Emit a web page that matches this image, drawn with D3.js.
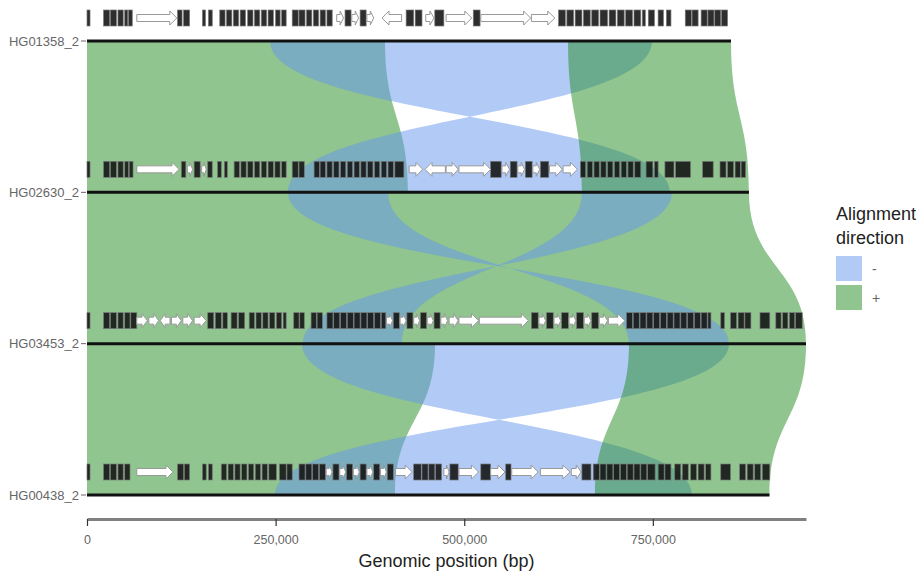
<!DOCTYPE html>
<html>
<head>
<meta charset="utf-8">
<script src="https://cdn.jsdelivr.net/npm/d3@7"></script>
<style>
  body { margin: 0; background: #fff; }
  text { font-family: "Liberation Sans", Arial, sans-serif; }
</style>
</head>
<body>
<svg id="chart" width="921" height="571"></svg>
<script>
// sequences, top to bottom, lengths in kb
const seqNames = ['HG01358_2', 'HG02630_2', 'HG03453_2', 'HG00438_2'];
const seqLengths = [853.6, 877.4, 953, 904.6];
const tickValues = [0, 250, 500, 750];

// alignments between neighbouring sequences: [fromStart, fromEnd, toStart, toEnd, strand] (kb)
const aln12 = [
  [0, 395, 0, 425.5, '+'],
  [242.6, 748.9, 266.4, 772.8, '-'],
  [637.6, 853.6, 656.1, 877.4, '+']
];
const aln23 = [
  [0, 877.4, 0, 953, '+'],
  [266.4, 399, 718.4, 851, '-'],
  [656.1, 775.4, 286.3, 417.5, '-']
];
const aln34 = [
  [0, 461.3, 0, 408.3, '+'],
  [285, 851, 249.2, 802, '-'],
  [718.4, 953, 673.4, 904.6, '+']
];

// gene annotation per sequence: [start, end, fill, strand] (kb), k = dark box, w = open arrow
const genes1 = [
  [0,4,'k'],[22,30,'k'],[31,39,'k'],[41,48,'k'],[50,54,'k'],[55,60,'k'],
  [66,119,'w','+'],
  [120,126,'k'],[128,136,'k'],[153,157,'k'],[161,166,'k'],
  [176,183,'k'],[185,192,'k'],[194,201,'k'],[203,210,'k'],[213,220,'k'],[222,229,'k'],[231,238,'k'],[240,247,'k'],[250,256,'k'],[258,264,'k'],
  [272,280,'k'],[281,289,'k'],[291,298,'k'],[300,307,'k'],[309,316,'k'],[318,325,'k'],
  [331,340,'w','+'],[342,350,'k'],[351,360,'w','+'],[362,370,'k'],[371,380,'w','+'],
  [391,417,'w','-'],[423,433,'k'],[435,444,'k'],
  [449,460,'w','+'],[461,473,'k'],[476,510,'w','+'],[512,521,'k'],
  [522,588,'w','+'],[589,620,'w','+'],
  [625,634,'k'],[636,645,'k'],[647,656,'k'],[658,667,'k'],[669,678,'k'],[680,690,'k'],[692,701,'k'],[703,712,'k'],[714,723,'k'],[725,734,'k'],[736,740,'k'],
  [744,752,'k'],[757,764,'k'],[768,774,'k'],
  [793,801,'k'],[802,810,'k'],
  [814,822,'k'],[823,831,'k'],[832,840,'k'],[841,849,'k']
];
const genes2 = [
  [0,4,'k'],[22,30,'k'],[31,39,'k'],[41,48,'k'],[50,55,'k'],[56,61,'k'],
  [66,122,'w','+'],
  [125,131,'k'],[133,140,'w','+'],[142,150,'k'],[152,158,'w','+'],[160,166,'k'],
  [173,178,'k'],[182,186,'k'],
  [195,202,'k'],[204,211,'k'],[213,220,'k'],[222,229,'k'],[231,238,'k'],[240,247,'k'],[249,256,'k'],[258,264,'k'],
  [272,280,'k'],[281,288,'k'],
  [301,308,'k'],[309,316,'k'],[318,325,'k'],[327,334,'k'],[336,343,'k'],[345,352,'k'],[354,361,'k'],[363,370,'k'],[372,379,'k'],[381,388,'k'],[390,397,'k'],[399,406,'k'],[408,420,'k'],
  [427,445,'w','+'],[448,475,'w','-'],[476,492,'w','+'],
  [493,535,'w','+'],[535,549,'k'],
  [550,560,'w','+'],[561,570,'k'],[571,580,'w','+'],[581,590,'k'],[591,600,'w','+'],[601,612,'k'],[613,630,'w','+'],[631,650,'w','+'],
  [654,661,'k'],[663,670,'k'],[672,679,'k'],[681,688,'k'],[690,697,'k'],[699,706,'k'],[708,715,'k'],[717,724,'k'],[726,734,'k'],
  [741,750,'k'],[752,757,'k'],
  [766,778,'k'],[780,800,'k'],
  [816,830,'k'],
  [839,847,'k'],[849,857,'k'],[859,866,'k'],[867,873,'k']
];
const genes3 = [
  [0,4,'k'],[22,30,'k'],[31,39,'k'],[41,48,'k'],[50,57,'k'],[58,66,'k'],
  [66,80,'w','+'],[82,95,'w','+'],[97,110,'w','-'],[112,125,'w','+'],[127,140,'w','+'],[142,158,'w','+'],
  [160,168,'k'],[170,178,'k'],[180,186,'k'],
  [191,199,'k'],[201,209,'k'],
  [215,222,'k'],[224,231,'k'],[233,240,'k'],[242,249,'k'],[251,258,'k'],[260,264,'k'],
  [274,281,'k'],[282,288,'k'],[297,304,'k'],[305,312,'k'],
  [318,326,'k'],[327,335,'k'],[336,344,'k'],[345,353,'k'],[354,362,'k'],[363,371,'k'],[372,380,'k'],[381,389,'k'],[390,396,'k'],
  [397,405,'w','+'],[406,414,'k'],[415,423,'w','+'],[424,432,'k'],[433,441,'w','+'],[442,450,'k'],[451,459,'w','+'],[460,468,'k'],[469,478,'w','+'],[480,492,'w','+'],
  [493,519,'w','+'],[520,585,'w','+'],
  [589,598,'k'],
  [599,608,'w','+'],[609,618,'k'],[619,628,'w','+'],[629,638,'k'],[639,648,'w','+'],[649,658,'k'],[659,668,'w','+'],[669,678,'k'],[679,690,'w','+'],
  [691,713,'w','+'],
  [715,723,'k'],[724,732,'k'],[733,741,'k'],[742,750,'k'],[751,759,'k'],[760,768,'k'],[769,777,'k'],[778,786,'k'],[787,795,'k'],[796,804,'k'],[805,813,'k'],[814,822,'k'],[823,827,'k'],
  [840,845,'k'],
  [853,861,'k'],[863,871,'k'],[872,880,'k'],
  [892,905,'k'],
  [913,920,'k'],[922,929,'k'],[931,938,'k'],[939,948,'k']
];
const genes4 = [
  [0,4,'k'],[22,30,'k'],[31,39,'k'],[41,48,'k'],[50,57,'k'],
  [66,114,'w','+'],
  [120,128,'k'],[129,136,'k'],[153,158,'k'],[161,166,'k'],
  [178,185,'k'],[187,194,'k'],[196,203,'k'],[205,212,'k'],[214,221,'k'],[223,230,'k'],[232,239,'k'],[241,251,'k'],
  [255,264,'k'],[265,272,'k'],
  [281,289,'k'],[290,298,'k'],[299,307,'k'],[308,316,'k'],[317,325,'w','+'],[326,334,'k'],[335,343,'w','+'],[344,352,'k'],[353,361,'w','+'],[362,370,'k'],[371,379,'w','+'],[380,388,'k'],[389,397,'w','+'],[398,406,'k'],
  [409,431,'w','+'],
  [433,443,'k'],[444,452,'k'],[453,461,'k'],[462,470,'k'],
  [473,480,'w','+'],[481,492,'k'],
  [493,519,'w','+'],[522,535,'k'],[535,554,'w','+'],[555,562,'k'],
  [563,598,'w','+'],[601,640,'w','+'],
  [642,655,'w','+'],[656,668,'k'],
  [671,679,'k'],[680,688,'k'],[689,697,'k'],[698,706,'k'],[707,715,'k'],[716,724,'k'],[725,733,'k'],[734,742,'k'],[743,753,'k'],
  [757,765,'k'],[766,774,'k'],
  [779,787,'k'],[789,797,'k'],[800,808,'k'],[810,818,'k'],[820,827,'k'],
  [840,853,'k'],
  [865,873,'k'],[875,883,'k'],[885,893,'k'],[895,905,'k']
];

const dirLabels = ['-', '+'];
const dirColors = {'-': 'cornflowerblue', '+': 'forestgreen'};

const svg = d3.select('#chart');

const x = d3.scaleLinear().domain([0, 953]).range([87, 806]);
const y = d3.scalePoint().domain(seqNames).range([41, 495]);

// ribbon between two sequences; minus strand alignments are twisted
function ribbon(d, y0, y1) {
  const [a1, a2, b1, b2, strand] = d;
  const ym = (y0 + y1) / 2;
  const br = strand === '+' ? b2 : b1,
    bl = strand === '+' ? b1 : b2;
  return 'M' + x(a1) + ',' + y0 + 'L' + x(a2) + ',' + y0 +
    'C' + x(a2) + ',' + ym + ' ' + x(br) + ',' + ym + ' ' + x(br) + ',' + y1 +
    'L' + x(bl) + ',' + y1 +
    'C' + x(bl) + ',' + ym + ' ' + x(a1) + ',' + ym + ' ' + x(a1) + ',' + y0 + 'Z';
}

const alnGroups = [aln12, aln23, aln34];
const gAln = svg.append('g');
alnGroups.forEach(function (alns, i) {
  const y0 = y(seqNames[i]), y1 = y(seqNames[i + 1]);
  gAln.selectAll(null)
    .data(alns)
    .enter().append('path')
    .attr('d', function (d) { return ribbon(d, y0, y1); })
    .attr('fill', function (d) { return dirColors[d[4]]; })
    .attr('fill-opacity', 0.5);
});

// sequence lines
svg.append('g').selectAll('line')
  .data(seqNames)
  .enter().append('line')
  .attr('x1', x(0))
  .attr('x2', function (d, i) { return x(seqLengths[i]); })
  .attr('y1', function (d) { return y(d); })
  .attr('y2', function (d) { return y(d); })
  .attr('stroke', '#111')
  .attr('stroke-width', 3);

// genes
function arrowPoints(d, yc) {
  const x0 = x(d[0]), x1 = x(d[1]);
  const head = Math.min(7, (x1 - x0) * 0.5), hb = 3.5, hh = 7;
  if (d[3] === '-') {
    return [[x1, yc - hb], [x0 + head, yc - hb], [x0 + head, yc - hh], [x0, yc],
      [x0 + head, yc + hh], [x0 + head, yc + hb], [x1, yc + hb]];
  }
  return [[x0, yc - hb], [x1 - head, yc - hb], [x1 - head, yc - hh], [x1, yc],
    [x1 - head, yc + hh], [x1 - head, yc + hb], [x0, yc + hb]];
}

const geneSets = [genes1, genes2, genes3, genes4];
geneSets.forEach(function (genes, i) {
  const yc = y(seqNames[i]) - 23;
  const g = svg.append('g');
  g.selectAll('rect')
    .data(genes.filter(function (d) { return d[2] === 'k'; }))
    .enter().append('rect')
    .attr('x', function (d) { return x(d[0]); })
    .attr('width', function (d) { return x(d[1]) - x(d[0]); })
    .attr('y', yc - 8)
    .attr('height', 16)
    .attr('fill', '#111')
    .attr('fill-opacity', 0.88)
    .attr('stroke', '#777')
    .attr('stroke-width', 0.7);
  g.selectAll('polygon')
    .data(genes.filter(function (d) { return d[2] === 'w'; }))
    .enter().append('polygon')
    .attr('points', function (d) { return arrowPoints(d, yc).join(' '); })
    .attr('fill', '#fff')
    .attr('stroke', '#999')
    .attr('stroke-width', 1);
});

// sequence labels
const gLab = svg.append('g');
gLab.selectAll('text')
  .data(seqNames)
  .enter().append('text')
  .attr('x', 79)
  .attr('y', function (d) { return y(d) + 4.5; })
  .attr('text-anchor', 'end')
  .attr('font-size', 13)
  .attr('fill', '#666')
  .text(function (d) { return d; });
gLab.selectAll('line')
  .data(seqNames)
  .enter().append('line')
  .attr('x1', 81).attr('x2', 86)
  .attr('y1', function (d) { return y(d); })
  .attr('y2', function (d) { return y(d); })
  .attr('stroke', '#666');

// x axis
const axis = svg.append('g')
  .attr('transform', 'translate(0,519)')
  .call(d3.axisBottom(x)
    .tickValues(tickValues)
    .tickSize(7)
    .tickSizeOuter(0)
    .tickFormat(function (d) { return d3.format(',')(d * 1000); }));
axis.select('.domain').attr('stroke', '#808080').attr('stroke-width', 3);
axis.selectAll('.tick line').attr('stroke', '#333').attr('stroke-width', 1.2);
axis.selectAll('.tick text')
  .attr('font-family', '"Liberation Sans", Arial, sans-serif')
  .attr('font-size', 12.5)
  .attr('fill', '#666')
  .attr('y', 16);

svg.append('text')
  .attr('x', (x(0) + x(953)) / 2)
  .attr('y', 567)
  .attr('text-anchor', 'middle')
  .attr('font-size', 18)
  .attr('fill', '#222')
  .text('Genomic position (bp)');

// legend
const legend = svg.append('g').attr('transform', 'translate(836,0)');
legend.append('text').attr('y', 220).attr('font-size', 18).attr('fill', '#222').text('Alignment');
legend.append('text').attr('y', 244).attr('font-size', 18).attr('fill', '#222').text('direction');
legend.selectAll('rect')
  .data(dirLabels)
  .enter().append('rect')
  .attr('x', 0)
  .attr('y', function (d, i) { return 256 + i * 29; })
  .attr('width', 26)
  .attr('height', 25)
  .attr('fill', function (d) { return dirColors[d]; })
  .attr('fill-opacity', 0.5);
legend.selectAll('.lab')
  .data(dirLabels)
  .enter().append('text')
  .attr('class', 'lab')
  .attr('x', 36)
  .attr('y', function (d, i) { return 274 + i * 29; })
  .attr('font-size', 14)
  .attr('fill', '#666')
  .text(function (d) { return d; });
</script>
</body>
</html>
